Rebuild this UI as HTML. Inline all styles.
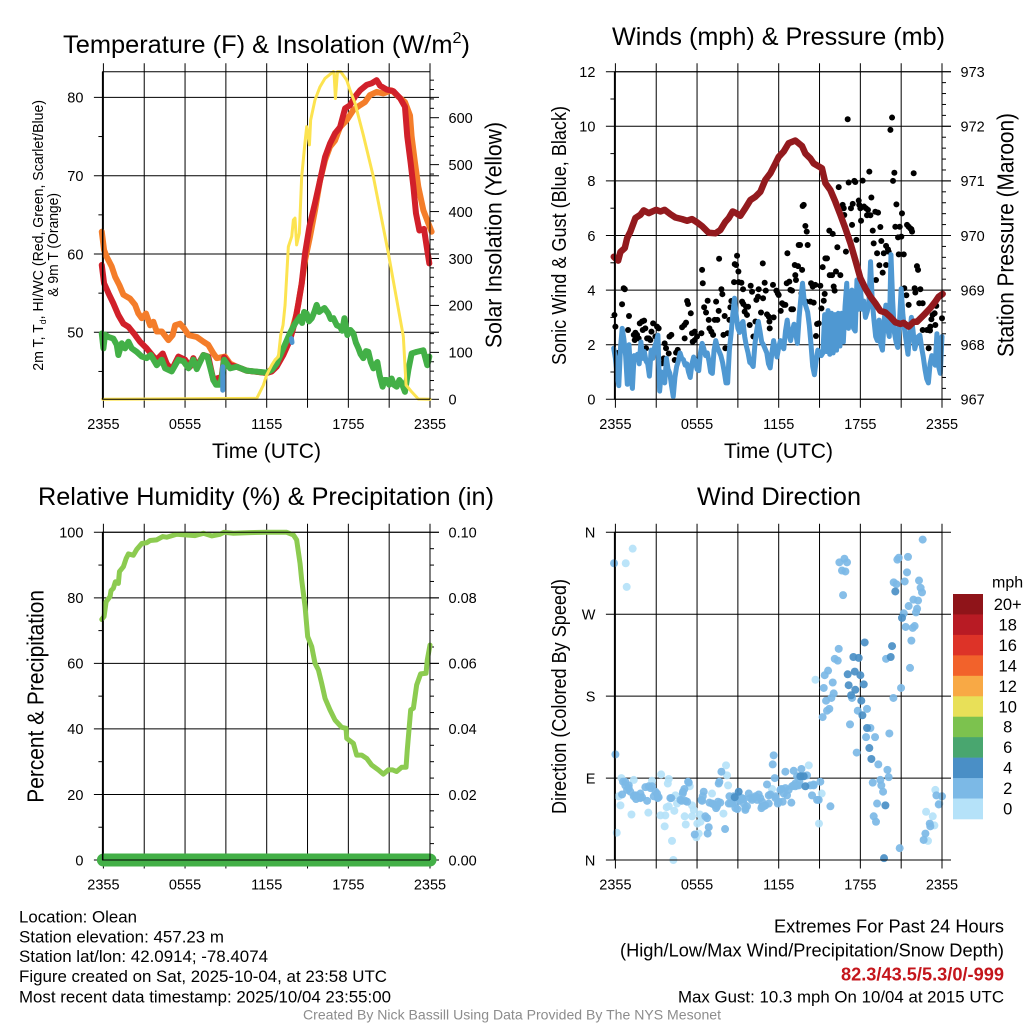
<!DOCTYPE html>
<html lang="en">
<head>
<meta charset="utf-8">
<title>Mesonet station meteogram</title>
<style>
html,body{margin:0;padding:0;background:#fff;}
svg{display:block;}
text{font-family:"Liberation Sans",sans-serif;fill:#000;}
</style>
</head>
<body>
<svg id="chart" xmlns="http://www.w3.org/2000/svg" width="1024" height="1024" viewBox="0 0 1024 1024">
<rect x="0" y="0" width="1024" height="1024" fill="#fff"/>
<g id="p1"></g>
<g id="p2"></g>
<g id="p3"></g>
<g id="p4"></g>
<g id="legend"></g>

<text x="63" y="53" font-size="25" textLength="407" lengthAdjust="spacingAndGlyphs">Temperature (F) &amp; Insolation (W/m<tspan font-size="16" dy="-10">2</tspan><tspan dy="10">)</tspan></text>
<text x="612" y="45" font-size="25" textLength="333" lengthAdjust="spacingAndGlyphs">Winds (mph) &amp; Pressure (mb)</text>
<text x="38" y="505" font-size="25" textLength="456" lengthAdjust="spacingAndGlyphs">Relative Humidity (%) &amp; Precipitation (in)</text>
<text x="697" y="505" font-size="25" textLength="164" lengthAdjust="spacingAndGlyphs">Wind Direction</text>

<text x="212" y="458" font-size="21" textLength="109" lengthAdjust="spacingAndGlyphs">Time (UTC)</text>
<text x="724" y="458" font-size="21" textLength="109" lengthAdjust="spacingAndGlyphs">Time (UTC)</text>

<text transform="translate(43,370.7) rotate(-90)" font-size="14.5" textLength="270.7" lengthAdjust="spacingAndGlyphs">2m T, T<tspan font-size="9" dy="3">d</tspan><tspan dy="-3">, HI/WC (Red, Green, Scarlet/Blue)</tspan></text>
<text transform="translate(58,296.7) rotate(-90)" font-size="14.5" textLength="103.7" lengthAdjust="spacingAndGlyphs">&amp; 9m T (Orange)</text>
<text transform="translate(501.7,348) rotate(-90)" font-size="23" textLength="226" lengthAdjust="spacingAndGlyphs">Solar Insolation (Yellow)</text>
<text transform="translate(566,365) rotate(-90)" font-size="20.5" textLength="259" lengthAdjust="spacingAndGlyphs">Sonic Wind &amp; Gust (Blue, Black)</text>
<text transform="translate(1013.7,357) rotate(-90)" font-size="23" textLength="244" lengthAdjust="spacingAndGlyphs">Station Pressure (Maroon)</text>
<text transform="translate(43.3,802.7) rotate(-90)" font-size="23" textLength="212.7" lengthAdjust="spacingAndGlyphs">Percent &amp; Precipitation</text>
<text transform="translate(566,814) rotate(-90)" font-size="20.5" textLength="235" lengthAdjust="spacingAndGlyphs">Direction (Colored By Speed)</text>

<g>
<text x="19" y="922.3" font-size="17" textLength="118" lengthAdjust="spacingAndGlyphs">Location: Olean</text>
<text x="19" y="942.5" font-size="17" textLength="205" lengthAdjust="spacingAndGlyphs">Station elevation: 457.23 m</text>
<text x="19" y="962" font-size="17" textLength="249" lengthAdjust="spacingAndGlyphs">Station lat/lon: 42.0914; -78.4074</text>
<text x="19" y="982" font-size="17" textLength="368" lengthAdjust="spacingAndGlyphs">Figure created on Sat, 2025-10-04, at 23:58 UTC</text>
<text x="19" y="1002.3" font-size="17" textLength="372" lengthAdjust="spacingAndGlyphs">Most recent data timestamp: 2025/10/04 23:55:00</text>
</g>
<g>
<text x="774" y="932.7" font-size="18" textLength="230" lengthAdjust="spacingAndGlyphs">Extremes For Past 24 Hours</text>
<text x="620" y="956.7" font-size="18" textLength="384" lengthAdjust="spacingAndGlyphs">(High/Low/Max Wind/Precipitation/Snow Depth)</text>
<text x="841" y="980.7" font-size="18" font-weight="bold" style="fill:#c4161c" textLength="163" lengthAdjust="spacingAndGlyphs">82.3/43.5/5.3/0/-999</text>
<text x="678" y="1002.3" font-size="17" textLength="326" lengthAdjust="spacingAndGlyphs">Max Gust: 10.3 mph On 10/04 at 2015 UTC</text>
</g>
<text x="303" y="1019.5" font-size="14" style="fill:#8c8c8c" textLength="418" lengthAdjust="spacingAndGlyphs">Created By Nick Bassill Using Data Provided By The NYS Mesonet</text>
</svg>

<script>
/* ---------- shared axes ---------- */
const timeTickHours = [0,3,6,9,12,15,18,21,24];
const timeLabelHours = [0,6,12,18,24];
const timeLabels = ["2355","0555","1155","1755","2355"];

/* ---------- temperature panel data ---------- */
const temp9mHours = [-0.12,0.05,0.24,0.61,0.86,1.18,1.47,1.96,2.33,2.57,2.82,3.13,3.43,3.67,3.92,4.29,4.78,5.09,5.27,5.63,5.93,6.25,6.86,7.35,7.71,8.08,8.33,8.94,9.31,9.8,10.53,12,12.73,13.22,13.71,14.2,14.57,14.82,15.18,15.55,15.92,16.29,16.65,17.02,17.39,17.88,18.37,18.86,19.22,19.59,20.08,20.57,21.18,21.67,22.16,22.53,22.65,22.9,23.14,23.51,23.88,24.12];
const temp9mValues = [62.85,60.5,59.65,58.4,57.1,56,54.8,54.3,53.5,52.4,51.8,52.4,50.9,51.35,50.1,50.1,49,49.65,50.9,51.1,50.5,49.65,49.4,48.8,48.4,47.3,46.7,46.9,46,45.6,45.1,44.8,45.8,47.3,49.4,52.4,56.2,59.2,62.2,65.6,69.4,72,73.7,74.5,76.2,77.1,78.4,79,79.4,80.3,80.7,80.5,80.9,80.1,79.4,77.7,75,71.6,68.6,65.6,63.9,62.85];
const temp2mHours = [-0.12,0.05,0.37,0.73,1.1,1.47,1.84,2.33,2.69,3.18,3.67,3.92,4.36,4.65,5.02,5.51,6,6.37,6.61,6.86,7.35,7.71,8.08,8.33,8.69,8.87,9.31,9.8,10.53,12,12.37,12.73,13.22,13.71,14.08,14.33,14.57,14.82,15.14,15.55,15.92,16.29,16.65,17.02,17.39,17.76,18.12,18.49,18.86,19.35,19.71,20.08,20.33,20.82,21.31,21.8,22.16,22.33,22.58,22.78,22.97,23.22,23.56,23.76,23.95];
const temp2mValues = [58.6,56.25,55,53.7,52.2,51.1,50.7,49.65,48.8,47.95,46.9,46.5,47.3,46,45.2,46.9,46.5,45.6,46.7,45.6,47.1,46.9,43.9,44.1,44.3,46.8,45.8,45.6,45.1,44.8,45,45.6,47.1,49,51.35,53.7,56.2,60.1,63.5,66.5,69.4,72.4,74.1,75.4,76.2,78.6,79,80.1,80.9,81.6,81.8,82.2,81.5,81,80.8,79.9,78.8,75,71.6,68.6,65.2,63,63.2,60.9,58.8];
const dewHours = [-0.12,0,0.12,0.37,0.73,0.98,1.1,1.35,1.59,1.84,2.08,2.45,2.82,3.18,3.48,3.92,4.29,4.53,5.02,5.51,5.88,6.25,6.61,6.86,7.35,7.64,8.08,8.28,8.52,8.69,8.87,9.31,9.8,10.53,12,12.37,12.73,13.22,13.71,14.08,14.45,14.6,14.75,14.94,15.1,15.31,15.5,15.67,15.85,16.04,16.25,16.53,16.7,16.9,17.15,17.39,17.55,17.71,17.93,18.15,18.37,18.55,18.74,18.9,19.1,19.3,19.47,19.65,19.84,20,20.13,20.3,20.52,20.65,20.82,21,21.18,21.35,21.55,21.75,21.92,22.16,22.41,22.65,23.02,23.51,23.8,23.95];
const dewValues = [49.85,47.95,49.7,49.4,49.2,48.4,47.1,48.6,47.95,48.8,47.95,47.5,46.9,46.7,47.1,45.8,46.5,45.4,45,46.5,46.3,45.4,46.5,45.3,47.1,46.9,43.9,43.3,43.3,44.1,46.5,45.4,45.6,45.1,44.85,45.2,46,47.95,49.9,51.1,52,51.2,52.6,52.4,51.4,51.8,52.6,53.5,52.6,52.85,53.1,52.4,51.7,51.8,50.9,50.7,50.2,51.8,49.65,50.3,49.85,48.7,47.95,47.2,46.7,47.6,47.5,46.2,45.4,45.9,46.2,44.5,43.05,43.9,43.9,43.3,44.1,43.3,43.05,43.9,43.5,42.4,45.2,47.3,47.5,47.7,45.8,46.9];
const chillHoursA = [8.77,8.77];
const chillValuesA = [45.6,42.6];
const chillHoursB = [13.82,13.86];
const chillValuesB = [49.2,48.7];
const solarHours = [-0.05,11.27,11.76,12,12.37,12.61,12.86,13.03,13.2,13.35,13.59,13.84,13.96,14.08,14.2,14.4,14.57,14.82,14.94,15.14,15.23,15.55,15.92,16.29,16.9,16.95,17.05,17.2,17.44,17.88,18.12,18.49,19.1,19.84,20.94,22.04,22.24,22.65,23.14,24];
const solarValues = [0,2,30.5,52,73,84,91,137,158,201,325,347,382,386,329,354,474,549,581,542,595,638,666,684,698,695,641,698,698,680,659,631,563,474,311,134,30.5,16,0.7,0];
const tempTicks = [50,60,70,80];
const tempMinorTicks = [45,55,65,75];
const solarTicks = [0,100,200,300,400,500,600];
const solarMinorTicks = [20,40,60,80,120,140,160,180,220,240,260,280,320,340,360,380,420,440,460,480,520,540,560,580,620,640,660,680];

/* ---------- winds panel data ---------- */
const gustHours = [-0.07,0,0.61,0.69,0.49,1,0.93,1.35,1.47,1.59,1.42,1.71,1.79,1.96,2.11,2.01,2.2,2.33,2.25,2.45,2.65,2.77,3.06,3.18,2.57,2.94,3.62,3.72,3.97,4.11,3.55,3.43,3.92,4.36,4.46,4.58,4.9,5.07,5.19,5.27,5.34,5.54,5.09,5.63,5.83,5.68,5.83,6,6.32,6.37,6.42,6.52,6.66,6.78,6.86,6.91,7.05,7.18,7.3,7.4,7.49,7.59,7.62,7.79,7.86,7.94,8.03,8.08,8.25,8.38,8.45,8.52,8.72,8.77,8.87,8.94,9.04,9.06,9.26,9.31,9.4,9.5,9.67,9.6,9.75,9.38,9.87,9.94,10.04,10.14,10.29,10.36,10.48,10.53,10.7,10.83,10.85,10.97,11.05,11.14,11.27,11.34,11.32,11.58,11.63,11.83,11.93,12,12.15,12.25,12.37,12.49,12.59,12.64,12.78,12.86,12.98,12.93,13.05,13.18,13.22,13.27,13.42,13.47,13.57,13.72,13.67,13.84,13.76,13.96,14.06,14.13,14.01,14.38,14.5,14.69,14.33,14.57,14.74,14.82,14.94,15.06,15.23,15.14,15.31,15.38,15.43,15.55,15.72,15.97,15.75,15.92,16.21,16.53,16.04,16.11,16.31,16.41,16.94,16.7,16.78,16.82,17.14,17.31,17.39,17.56,17.63,17.71,17.07,17.44,17.88,17.92,18,18.05,18.17,18.27,18.41,18.56,18.49,18.66,18.74,18.81,18.91,18.98,19.1,19.3,19.23,19.15,19.4,19.47,19.54,19.72,19.64,19.89,19.89,20.03,20.08,20.21,20.33,20.4,20.5,20.65,20.57,20.77,20.82,20.89,21.01,21.06,21.19,21.23,21.38,21.55,21.43,21.55,21.67,21.8,21.75,21.92,21.99,22.04,22.16,22.24,22.41,22.33,22.58,22.58,22.9,23.02,23.12,23.22,23.14,23.31,23.46,23.51,23.58,24,0.2,0.25,0.22];
const gustValues = [3.09,2.66,4.07,4.03,3.48,3.05,2.54,2.36,2.44,2.36,2.17,2.23,2.78,2.85,2.88,2.54,2.6,2.23,1.87,2.23,2.48,2.78,2.66,2.6,2.17,2.3,2.05,1.87,2.3,2.36,1.5,1.32,1.68,1.44,1.71,1.81,2.64,2.72,2.81,3.6,3.49,3.15,2.23,2.42,2.48,2.11,2.17,2.3,2.42,4.74,4.25,3.37,3.18,3.61,2.91,2.6,2.48,2.36,2.91,3.58,2.91,3.24,5.15,4.03,3.85,2.36,3.05,1.87,2.42,2.91,3.37,3.6,4.29,4.95,4.92,5.26,4.68,4.29,4.27,3.58,3.49,3.21,3.09,3.39,3.39,4.03,2.72,4.16,3.94,2.3,2.85,3.64,3.76,4.03,3.18,4.98,3.7,4.27,3.98,3.11,3.03,2.6,2.85,4.19,3,3.98,3.88,3.82,3.24,3.52,3.46,3.46,4.25,5.35,4.31,4.01,3.98,3.3,3.3,4.92,4.55,4.37,4.88,5.65,5.65,4.74,3.88,7.12,7.08,6.35,6.14,5.65,3.58,4.25,4.13,4.19,3.58,3.54,2.32,2.76,2.78,4.16,4.84,3.33,3.61,3.86,5.16,5.16,6.18,6.06,4.55,4.55,4.68,4.55,4.13,3.98,5.57,7.77,5.41,7.12,7,6.75,7.94,7,6.39,8,7.96,5.84,10.26,7.16,7.28,7.12,7,6.54,8.01,7.06,7,6.94,6.74,8.34,6.74,7.39,6.18,5.71,6.87,6.84,5.35,4.37,4.91,6.31,5.8,5.35,4.64,5.62,4.92,5.49,5.41,9.87,10.32,8,8.3,7.14,6.32,5.93,5.31,6.32,5.96,6.81,5.31,4.07,3.81,3.46,6.39,6.32,6.26,6.14,6.23,8.28,4.07,3.91,4.88,4.74,4.03,3.52,3.52,2.54,2.54,1.87,2.52,2.93,2.66,3.09,3.15,2.72,3.42,2.97,1.7,1.4,1];
const windFirstHour = -0.125;
const windStepHours = 0.125;
const windValues = [1.87,1.5,0.9,0.5,1.9,2.6,2.2,1.6,0.55,2,0.9,0.4,1.6,1.45,1.65,1.3,2.1,1.5,1.75,1.4,1.3,0.85,1.8,1.5,1.9,2.1,2.35,0.3,1,0.7,0.6,1.5,1.1,0.95,0.5,0.1,0.8,1.2,1.4,1.7,1.5,1.45,1.25,1.3,1,0.8,1.3,1.55,1.4,1.1,1.05,1.7,2.05,1.85,1.6,1.7,1.4,1,0.95,1.8,2.15,1.9,1.75,1.6,1.35,1,0.6,0.6,1.8,2.4,3.1,3.7,3.1,2.6,2.45,2.75,2.85,2.3,1.95,1.7,1.35,1.3,1.2,2,2.5,2.85,2.5,2.1,2,1.85,1.7,1.3,1.15,1.7,2.15,1.85,1.55,1.9,2.15,1.95,1.85,2.5,2.9,2.4,2.15,2.5,2.75,2.4,2.05,3,3.7,4.25,3.6,3.4,3.2,2.7,2,1.2,0.9,1.4,1.8,1.7,1.6,1.7,3.1,1.75,3.25,1.65,3.15,1.7,3.1,1.8,3.15,1.95,3.15,2.1,3.4,4.25,2.6,3.6,4,2.6,2.5,4.37,3.3,4.1,3.3,3.6,3,3.2,3.5,5.04,3.6,2.9,2.3,2.15,2.9,2,1.8,2.9,3.45,2.6,2.3,5.3,3.6,2.45,2.1,1.9,2.8,4.05,3.1,2.55,2.1,1.65,2.4,3,2.5,1.85,2.1,2.3,2.35,1.9,1.55,1.1,0.75,0.6,1.3,1.6,1.4,1.25,2.4,1.2,0.95,2.3];
const pressureHours = [-0.12,0.2,0.37,0.69,0.86,1.1,1.47,1.84,2.08,2.45,2.99,3.31,3.62,4.04,4.41,4.9,5.27,5.63,6,6.37,6.86,7.35,7.71,8.08,8.33,8.62,8.87,9.18,9.55,9.92,10.29,10.65,11.02,11.39,11.76,12,12.37,12.73,13.22,13.71,13.96,14.33,14.57,15.18,15.43,15.8,16.16,16.53,16.9,17.27,17.63,18,18.37,18.74,19.1,19.47,19.84,20.2,20.57,20.94,21.18,21.55,21.92,22.16,22.65,23.14,23.51,23.76,24.05];
const pressureValues = [969.61,969.54,969.7,969.77,969.95,970.07,970.32,970.38,970.46,970.41,970.47,970.44,970.47,970.39,970.33,970.3,970.27,970.3,970.24,970.17,970.05,970.04,970.1,970.25,970.32,970.44,970.41,970.36,970.5,970.65,970.71,970.8,971.02,971.14,971.32,971.44,971.54,971.69,971.74,971.64,971.5,971.41,971.32,971.23,970.96,970.83,970.62,970.38,970.13,969.86,969.55,969.22,969.03,968.88,968.76,968.62,968.59,968.51,968.41,968.38,968.4,968.33,968.42,968.42,968.54,968.67,968.79,968.88,968.93];
const windTicks = [0,2,4,6,8,10,12];
const windMinorTicks = [1,3,5,7,9,11];
const pressureTicks = [967,968,969,970,971,972,973];
const pressureMinorTicks = [967.2,967.4,967.6,967.8,968.2,968.4,968.6,968.8,969.2,969.4,969.6,969.8,970.2,970.4,970.6,970.8,971.2,971.4,971.6,971.8,972.2,972.4,972.6,972.8];

/* ---------- humidity panel data ---------- */
const rhHours = [-0.12,0.05,0.2,0.49,0.56,0.73,0.88,1.1,1.18,1.47,1.67,1.84,2.2,2.45,2.82,3.18,3.43,3.92,4.36,4.65,5.39,6,6.73,7.35,7.96,8.57,8.87,9.55,10.78,12,13.47,13.96,14.2,14.45,14.57,14.82,15.01,15.31,15.55,15.8,16.04,16.29,16.65,17.02,17.51,17.83,17.88,18.37,18.61,18.98,19.35,19.71,20.2,20.57,20.94,21.26,21.55,21.92,22.24,22.33,22.58,22.78,23.02,23.31,23.71,23.8,24];
const rhValues = [73.4,74.3,78.8,80.4,82.2,82.9,84.9,84.4,88,89.5,92,93.4,93,94.8,96.6,96.8,97.5,97.7,98.7,98.5,99.4,99.2,99,99.7,98.9,99.4,100,99.7,99.9,100,100,99.2,97.7,90.5,85.5,77.3,68.2,65.1,60,58,53.9,49.3,45.8,42.7,40.5,40.2,37.1,35.6,32,32,31,29,27.5,26.2,27.5,27.5,27,28.3,28.3,33.6,45.8,46.3,53.4,56.8,57,61,65.6];
const precipHours = [0,24];
const precipValues = [0,0];
const percentTicks = [0,20,40,60,80,100];
const percentMinorTicks = [10,30,50,70,90];
const precipTicks = [0,0.02,0.04,0.06,0.08,0.1];
const precipTickLabels = ["0.00","0.02","0.04","0.06","0.08","0.10"];
const precipMinorTicks = [0.005,0.01,0.015,0.025,0.03,0.035,0.045,0.05,0.055,0.065,0.07,0.075,0.085,0.09,0.095];

/* ---------- wind direction panel data ---------- */
const dirHoursCalm = [0.76,1.27,0.83,0.1,0.44,1.35,0.24,0.37,1.18,2.42,3.36,2.69,3.92,3.85,4.41,3.77,4.33,3.31,3.67,3.62,4.16,4.26,5.09,5.17,5.46,5.63,5.76,5.63,6.02,6.25,6.2,5.95,6.12,7.1,8.2,8.13,8.28,7.94,14.21,14.7,15.16,14.96,11.51,23.51,23.81,22.83,23.32,23.44,22.97,4.53,3.92];
const dirDegreesCalm = [326,342,300,30,90,88,70,60,50,52,94,87,89,84,71,58,54,49,49,37,21,0,48,39,81,60,55,48,40,42,50,25,29,73,93,104,82,51,104,198,73,40,78,77,62,53,48,38,21,62,59];
const dirHoursLight = [-0.1,0,0.56,0.73,0.98,0.86,1.1,0.49,1.42,1.52,1.84,1.96,2.33,2.2,2.57,2.82,3.06,3.18,4.04,4.87,4.97,5.07,5.27,5.34,6.37,6.49,6.42,6.91,7.4,7.22,7.54,7.64,7.79,7.59,6.61,6.74,6.86,6.78,5.83,8.06,8.38,8.45,8.69,8.82,8.96,9.31,9.43,9.55,9.67,9.8,10.16,10.41,10.53,10.78,10.73,11.02,11.27,11.39,11.14,11.76,11.93,12.2,12.29,12.49,12.61,12.93,11.56,11.63,11.71,12.49,13.1,13.35,13.22,13.52,13.67,14.08,14.33,14.57,14.45,14.82,15.06,15.8,16.46,16.83,17.02,16.65,16.9,16.73,16.41,16.12,16.34,15.63,15.38,15.97,15.31,16.04,15.87,15.48,15.72,15.55,15.23,17.81,18.49,17.24,17.39,18.74,18.42,19.08,17.73,19.32,19.99,20.08,19.47,18.91,19.54,19.67,19.23,18.98,19.15,20.89,19.89,20.13,20.43,20.99,21.65,21.75,21.33,21.99,21.85,22.09,22.17,21.55,21.9,22.24,22.53,22.43,22.31,21.26,21.43,21.5,20.82,20.72,20.45,20.65,21.19,22.58,23.59,23.1,23.14,22.78,22.65,24,23.76,1.84,1.52,0.98,0.73,1.35,2.45,2.69,2.94,3.11,4.11,4.78,4.95,5.14,5.39,6.32,7.1,7.35,7.47,7.71,8.33,8.57,8.94,9.06,9.18,9.43,9.55,9.92,10.04,10.29,10.65,10.78,10.9,11.27,11.76,12,12.12,12.37,12.73,12.98,13.22,13.47,13.1,13.71,13.35,14.57,14.94];
const dirDegreesLight = [326,116,86,82,82,77,75,72,71,67,73,69,65,80,79,70,73,69,68,65,75,78,64,86,65,75,70,63,57,61,64,86,97,84,48,46,36,29,28,34,70,62,70,57,56,68,62,55,59,73,68,66,72,59,57,60,62,72,83,70,62,78,64,79,71,63,105,115,90,97,98,82,84,86,100,93,82,82,71,66,86,59,327,331,327,318,317,291,232,221,219,208,203,195,189,183,178,175,166,164,157,164,166,149,178,145,135,135,118,105,99,91,88,85,82,75,62,48,42,13,221,139,178,189,211,241,256,257,255,272,276,279,286,285,294,299,307,306,316,333,332,330,305,303,271,352,71,40,37,29,22,70,61,68,71,79,86,70,81,81,75,68,68,66,73,65,85,66,62,60,59,63,62,62,64,70,66,67,57,68,66,70,68,64,59,71,68,64,77,73,77,81,81,82,82,92,92,83,66];
const dirHoursFresh = [17.07,17.14,17.32,17.63,17.59,18,18.25,18.07,18.15,17.49,17.88,18.32,20.33,20.23,20.57,21.06,18.49,18.66,18.81,19.84,19.74,8.77,9.06,13.96,13.59,13.84];
const dirDegreesFresh = [204,192,181,187,207,203,193,175,159,223,222,239,235,223,295,266,145,123,111,60,2,69,75,81,92,92];
const dirGroupSpeeds = [0.5,2,4];
const directionTicks = [0,90,180,270,360];
const directionLabels = ["N","E","S","W","N"];

/* ---------- legend data ---------- */
const legendLabels = ["20+","18","16","14","12","10","8","6","4","2","0"];
const legendColors = ["#8f1419","#b81b24","#dd3328","#f2622b","#f8a945","#e8e058","#7cc24e","#49a66f","#4a8fc6","#7cb9e6","#b5e2f9"];

const SVG_NS = "http://www.w3.org/2000/svg";

function make(parent, tag, name, attrs) {
  const el = document.createElementNS(SVG_NS, tag);
  
  
  for (const k in attrs) el.setAttribute(k, attrs[k]);
  parent.appendChild(el);
  return el;
}

function linearScale(d0, d1, r0, r1) {
  return function (v) { return r0 + (v - d0) * (r1 - r0) / (d1 - d0); };
}

function line(parent, name, x1, y1, x2, y2, w) {
  return make(parent, "line", name, {x1: x1, y1: y1, x2: x2, y2: y2, stroke: "#000", "stroke-width": w || 1});
}

function label(parent, name, x, y, str, anchor, size) {
  const t = make(parent, "text", name, {x: x, y: y, "font-size": size || 14.5, "text-anchor": anchor});
  t.textContent = str;
  return t;
}

function buildFrame(g, box, cfg) {
  const xOf = linearScale(0, 24, box.left, box.right);
  timeTickHours.forEach(function (h) {
    line(g, "time-gridline", xOf(h), box.top - 8.5, xOf(h), box.bottom + 8.5);
  });
  timeLabelHours.forEach(function (h, i) {
    label(g, "time-tick-label", xOf(h), box.bottom + 29.5, timeLabels[i], "middle");
  });
  cfg.leftTicks.forEach(function (v, i) {
    const y = cfg.leftY(v);
    line(g, "left-gridline", box.left - 9.5, y, box.right + 9, y);
    label(g, "left-tick-label", box.left - 20, y + 5.3, cfg.leftLabels ? cfg.leftLabels[i] : String(v), "end");
  });
  (cfg.leftMinor || []).forEach(function (v) {
    const y = cfg.leftY(v);
    line(g, "left-minor-tick", box.left - 5, y, box.left, y);
  });
  (cfg.rightTicks || []).forEach(function (v, i) {
    const y = cfg.rightY(v);
    line(g, "right-major-tick", box.right, y, box.right + 9, y);
    label(g, "right-tick-label", box.right + 18.5, y + 5.3, cfg.rightLabels ? cfg.rightLabels[i] : String(v), "start");
  });
  (cfg.rightMinor || []).forEach(function (v) {
    const y = cfg.rightY(v);
    line(g, "right-minor-tick", box.right, y, box.right + 4, y);
  });
  return xOf;
}

function buildBorder(g, box) {
  line(g, "plot-left-spine", box.left - 0.7, box.top, box.left - 0.7, box.bottom, 1.6);
  line(g, "plot-top-spine", box.left - 1.3, box.top, box.right, box.top);
  line(g, "plot-bottom-spine", box.left - 1.3, box.bottom, box.right, box.bottom);
  line(g, "plot-right-spine", box.right, box.top, box.right, box.bottom);
}

function drawLine(g, name, hours, values, xOf, yOf, color, width) {
  let d = "";
  hours.forEach(function (h, i) {
    d += (i ? "L" : "M") + xOf(h).toFixed(2) + " " + yOf(values[i]).toFixed(2);
  });
  return make(g, "path", name, {d: d, fill: "none", stroke: color, "stroke-width": width, "stroke-linejoin": "round", "stroke-linecap": "round"});
}

const leftBoxX = {left: 103.4, right: 430};
const rightBoxX = {left: 615.4, right: 942};

/* temperature panel */
(function () {
  const g = document.getElementById("p1");
  const box = {left: leftBoxX.left, right: leftBoxX.right, top: 71.7, bottom: 399.3};
  const yTemp = linearScale(50, 80, 332.3, 97.4);
  const ySolar = linearScale(0, 600, 399.3, 117.7);
  const xOf = buildFrame(g, box, {leftTicks: tempTicks, leftMinor: tempMinorTicks, leftY: yTemp, rightTicks: solarTicks, rightMinor: solarMinorTicks, rightY: ySolar});
  drawLine(g, "nine-meter-temperature-line", temp9mHours, temp9mValues, xOf, yTemp, "#f47d2a", 6);
  drawLine(g, "two-meter-temperature-line", temp2mHours, temp2mValues, xOf, yTemp, "#d1202a", 6);
  drawLine(g, "dew-point-line", dewHours, dewValues, xOf, yTemp, "#43b047", 6);
  drawLine(g, "wind-chill-line-overnight", chillHoursA, chillValuesA, xOf, yTemp, "#4d95cf", 5);
  drawLine(g, "wind-chill-line-morning", chillHoursB, chillValuesB, xOf, yTemp, "#4d95cf", 5);
  drawLine(g, "solar-insolation-line", solarHours, solarValues, xOf, ySolar, "#fce350", 3);
  buildBorder(g, box);
})();

/* winds panel */
(function () {
  const g = document.getElementById("p2");
  const box = {left: rightBoxX.left, right: rightBoxX.right, top: 71.7, bottom: 399.3};
  const yWind = linearScale(0, 12, box.bottom, box.top);
  const yPressure = linearScale(967, 973, box.bottom, box.top);
  const xOf = buildFrame(g, box, {leftTicks: windTicks, leftMinor: windMinorTicks, leftY: yWind, rightTicks: pressureTicks, rightMinor: pressureMinorTicks, rightY: yPressure});
  gustHours.forEach(function (h, i) {
    make(g, "circle", "gust-point", {cx: xOf(h).toFixed(2), cy: yWind(gustValues[i]).toFixed(2), r: 3, fill: "#000"});
  });
  const windHours = windValues.map(function (v, i) { return windFirstHour + i * windStepHours; });
  drawLine(g, "sonic-wind-line", windHours, windValues, xOf, yWind, "#4f98d2", 5);
  drawLine(g, "station-pressure-line", pressureHours, pressureValues, xOf, yPressure, "#931a1e", 6.5);
  buildBorder(g, box);
})();

/* humidity panel */
(function () {
  const g = document.getElementById("p3");
  const box = {left: leftBoxX.left, right: leftBoxX.right, top: 532.3, bottom: 860};
  const yPct = linearScale(0, 100, box.bottom, box.top);
  const yPrecip = linearScale(0, 0.1, box.bottom, box.top);
  const xOf = buildFrame(g, box, {leftTicks: percentTicks, leftMinor: percentMinorTicks, leftY: yPct, rightTicks: precipTicks, rightLabels: precipTickLabels, rightMinor: precipMinorTicks, rightY: yPrecip});
  drawLine(g, "relative-humidity-line", rhHours, rhValues, xOf, yPct, "#8ccb50", 5);
  drawLine(g, "precipitation-line", precipHours, precipValues, xOf, yPrecip, "#43b047", 13);
  buildBorder(g, box);
})();

/* direction panel */
(function () {
  const g = document.getElementById("p4");
  const box = {left: rightBoxX.left, right: rightBoxX.right, top: 532.3, bottom: 860};
  const yDir = linearScale(0, 360, box.bottom, box.top);
  const xOf = buildFrame(g, box, {leftTicks: directionTicks, leftLabels: directionLabels, leftY: yDir});
  function speedColor(speed) {
    const bin = Math.min(10, Math.floor((speed + 1) / 2));
    return legendColors[10 - bin];
  }
  [[dirHoursCalm, dirDegreesCalm], [dirHoursLight, dirDegreesLight], [dirHoursFresh, dirDegreesFresh]].forEach(function (group, k) {
    group[0].forEach(function (h, i) {
      make(g, "circle", "direction-point", {cx: xOf(h).toFixed(2), cy: yDir(group[1][i]).toFixed(2), r: 4, fill: speedColor(dirGroupSpeeds[k]), "fill-opacity": 0.92});
    });
  });
  buildBorder(g, box);
})();

/* legend */
(function () {
  const g = document.getElementById("legend");
  const top = 594, cell = 225 / legendLabels.length;
  const title = make(g, "text", "legend-unit-title", {x: 992, y: 587.7, "font-size": 16});
  title.textContent = "mph";
  legendLabels.forEach(function (str, i) {
    make(g, "rect", "legend-swatch", {x: 953, y: top + i * cell, width: 30, height: cell + 0.3, fill: legendColors[i]});
    label(g, "legend-label", 1007.7, top + i * cell + 16, str, "middle", 16.5);
  });
})();
</script>
</body>
</html>
